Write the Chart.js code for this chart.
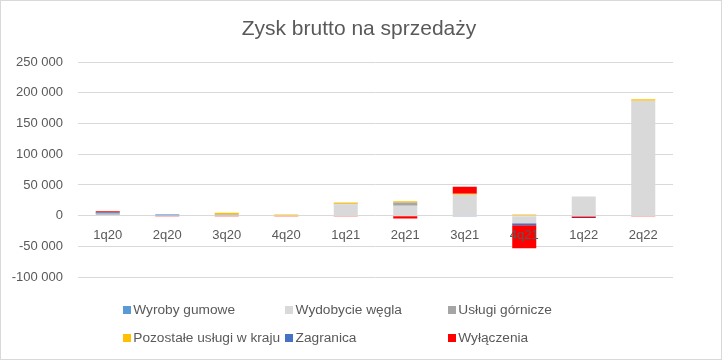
<!DOCTYPE html>
<html>
<head>
<meta charset="utf-8">
<script src="https://cdn.jsdelivr.net/npm/chart.js@4.4.0/dist/chart.umd.min.js"></script>
<style>
  html, body { margin: 0; padding: 0; background: #fff; }
  #wrap { position: relative; width: 722px; height: 360px; }
  #c { position: absolute; left: 0; top: 0; }
  .lg { position: absolute; height: 20px; line-height: 20px; font-family: "Liberation Sans", Arial, sans-serif; font-size: 13.7px; color: #595959; white-space: nowrap; }
  .sq { position: absolute; width: 8px; height: 8px; top: 6px; }
  .tx { position: absolute; top: 0; }
</style>
</head>
<body>
<div id="wrap">
  <canvas id="c" width="722" height="360"></canvas>
  <div id="legend"></div>
</div>
<script>
const categories = ['1q20', '2q20', '3q20', '4q20', '1q21', '2q21', '3q21', '4q21', '1q22', '2q22'];
const seriesNames = ['Wyroby gumowe', 'Wydobycie węgla', 'Usługi górnicze', 'Pozostałe usługi w kraju', 'Zagranica', 'Wyłączenia'];
const seriesColors = ['#5B9BD5', '#D9D9D9', '#A5A5A5', '#FFC000', '#4472C4', '#FF0000'];
const wyrobyGumowe     = [-1200, 0, 0, 0, 0, 0, 0, 0, 0, 0];
const wydobycieWegla   = [1500, 0, 0, 0, 18500, 16000, 34000, -12500, 31000, 187000];
const uslugiGornicze   = [2500, 0, 2000, 0, 1000, 5500, 0, 0, -1000, 0];
const pozostaleUslugi  = [0, 0, 2500, 2000, 2000, 2000, 1500, 2000, 0, 2500];
const zagranica        = [1500, 2000, 0, 0, 0, -1200, -1500, -3000, -1000, 0];
const wylaczenia       = [1500, -1500, -1500, -1500, -1500, -3500, 11500, -37500, -2000, -1500];
const seriesValues = [wyrobyGumowe, wydobycieWegla, uslugiGornicze, pozostaleUslugi, zagranica, wylaczenia];
const yTickMin = -100000, yTickMax = 250000, yTickStep = 50000;

const FONT = '"Liberation Sans", Arial, sans-serif';
const TXT = '#595959';

const bgPlugin = {
  id: 'bg',
  afterLayout(chart) {
    // centre the title over the whole picture, as in the original
    if (chart.titleBlock) { chart.titleBlock.left = 0; chart.titleBlock.right = 718; }
  },
  beforeDraw(chart) {
    const ctx = chart.ctx;
    ctx.save();
    ctx.fillStyle = '#fff';
    ctx.fillRect(0, 0, chart.width, chart.height);
    ctx.restore();
  },
  afterDraw(chart) {
    const ctx = chart.ctx;
    ctx.save();
    ctx.strokeStyle = '#D9D9D9';
    ctx.lineWidth = 1;
    ctx.strokeRect(0.5, 0.5, chart.width - 1, chart.height - 1);
    ctx.restore();
  }
};

function fmt(v) {
  const s = Math.abs(v).toString().replace(/\B(?=(\d{3})+(?!\d))/g, ' ');
  return (v < 0 ? '-' : '') + s;
}

new Chart(document.getElementById('c'), {
  type: 'bar',
  data: {
    labels: categories,
    datasets: seriesNames.map((n, i) => ({
      label: n,
      data: seriesValues[i],
      backgroundColor: seriesColors[i],
      borderWidth: 0,
      categoryPercentage: 1,
      barPercentage: 0.404
    }))
  },
  options: {
    responsive: false,
    animation: false,
    layout: { padding: { left: 0, right: 49, top: 0, bottom: 83 } },
    plugins: {
      legend: { display: false },
      tooltip: { enabled: false },
      title: {
        display: true,
        text: 'Zysk brutto na sprzedaży',
        color: TXT,
        font: { family: FONT, size: 21, weight: 'normal' },
        padding: { top: 17, bottom: 20 }
      }
    },
    scales: {
      x: {
        stacked: true,
        position: { y: 0 },
        grid: { display: false, drawTicks: false },
        border: { display: false },
        ticks: { color: TXT, font: { family: FONT, size: 13 }, padding: 12, z: 1, maxRotation: 0 }
      },
      y: {
        stacked: true,
        min: yTickMin,
        max: yTickMax,
        afterFit(s) { s.width = 78; },
        grid: { color: '#D9D9D9', lineWidth: 1, drawTicks: false },
        border: { display: false },
        ticks: {
          stepSize: yTickStep,
          color: TXT,
          font: { family: FONT, size: 13 },
          padding: 15,
          callback: v => fmt(v)
        }
      }
    }
  },
  plugins: [bgPlugin]
});

// legend (grid-aligned like the original)
const legendEl = document.getElementById('legend');
const colX = [122.7, 285, 447.7];
const rowTop = [299.7, 327.7];
seriesNames.forEach((n, i) => {
  const d = document.createElement('div');
  d.className = 'lg';
  d.style.left = colX[i % 3] + 'px';
  d.style.top = rowTop[Math.floor(i / 3)] + 'px';
  const sq = document.createElement('span');
  sq.className = 'sq';
  sq.style.left = '0px';
  sq.style.background = seriesColors[i];
  const tx = document.createElement('span');
  tx.className = 'tx';
  tx.style.left = '10.6px';
  tx.textContent = n;
  d.appendChild(sq);
  d.appendChild(tx);
  legendEl.appendChild(d);
});
</script>
</body>
</html>
